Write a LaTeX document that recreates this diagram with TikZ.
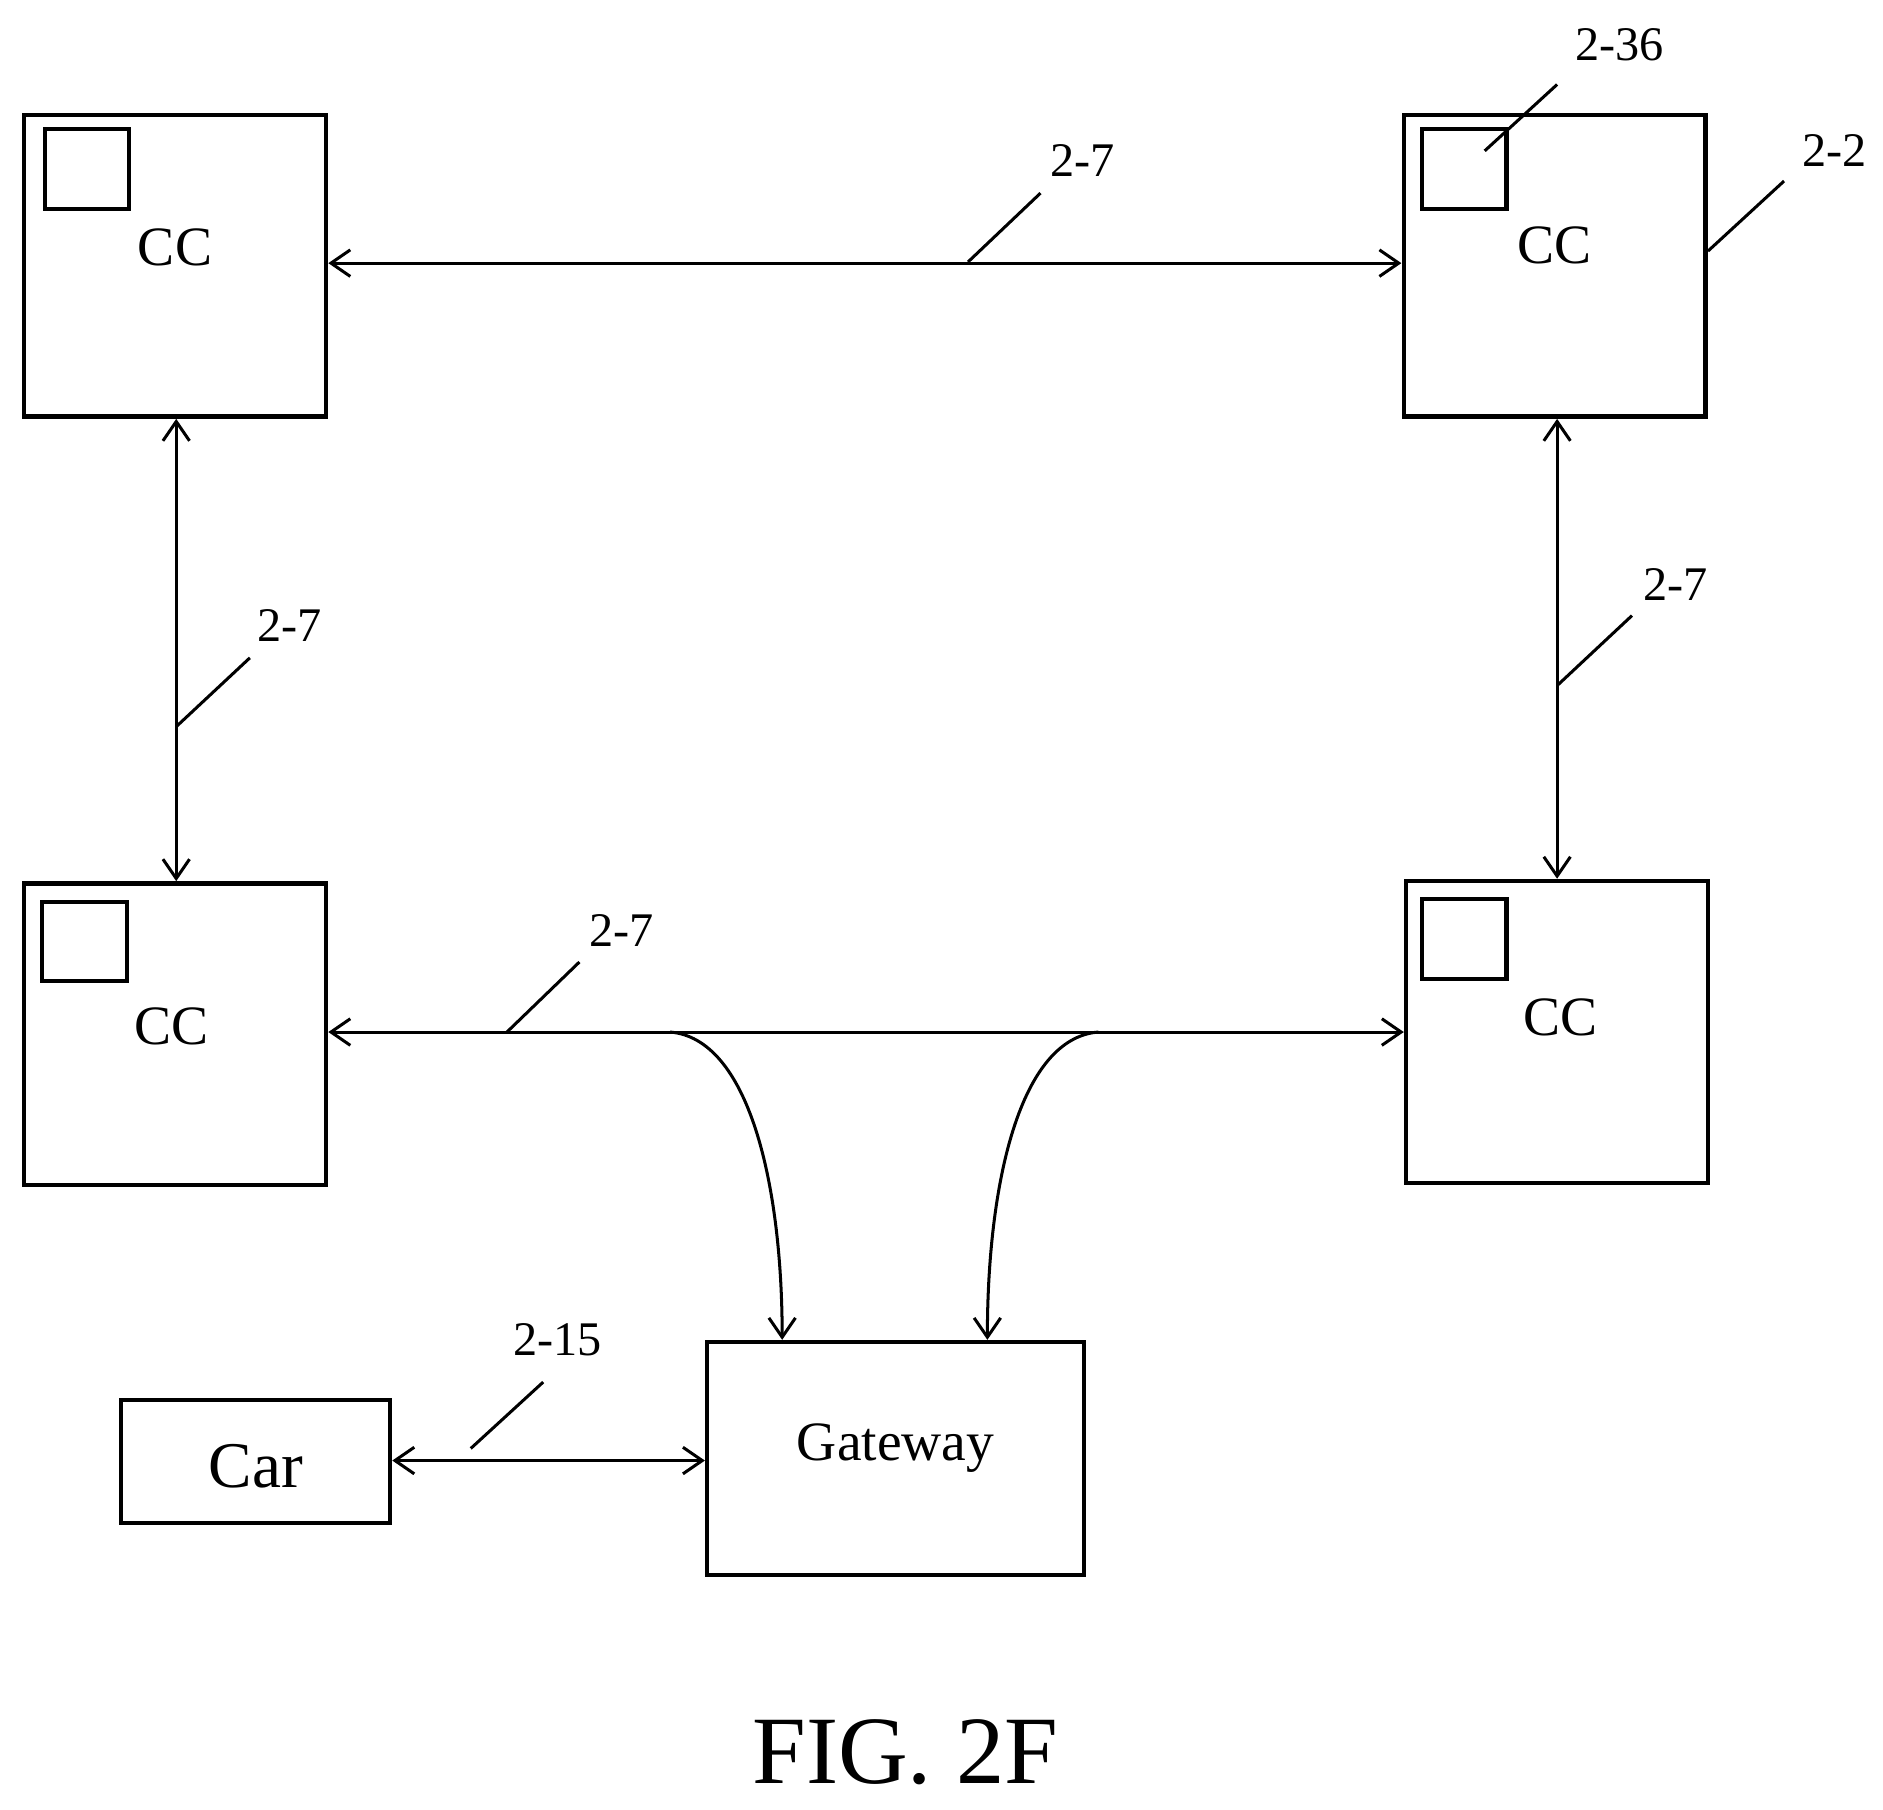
\documentclass[tikz,border=0pt]{standalone}
\usepackage{fontspec}
\setmainfont{Liberation Serif}
\usetikzlibrary{arrows.meta}
\begin{document}
\begin{tikzpicture}[x=1pt,y=-1pt,
  box/.style={draw,line width=3.5pt,inner sep=0pt},
  lnk/.style={line width=2.5pt,{Straight Barb[length=16pt,width=22pt,line width=2.5pt]}-{Straight Barb[length=16pt,width=22pt,line width=2.5pt]}},
  one/.style={line width=2.5pt,-{Straight Barb[length=16pt,width=22pt,line width=2.5pt]}},
  lead/.style={line width=2.5pt},
  num/.style={font=\fontsize{40}{44}\selectfont,inner sep=0pt},
  cc/.style={font=\fontsize{46}{50}\selectfont,inner sep=0pt}]
\useasboundingbox (0,0) rectangle (1560,1499);
% CC boxes
\draw[box] (20,95) rectangle (270,345);
\draw[box] (37,107) rectangle (107,173);
\node[cc] (tlt) at (145,205) {CC};
\draw[box] (1163,95) rectangle (1413,345);
\draw[box] (1178,107) rectangle (1248,173);
\node[cc] (trt) at (1288,203) {CC};
\draw[box] (20,732) rectangle (270,982);
\draw[box] (35,747) rectangle (105,813);
\node[cc] (blt) at (142,850) {CC};
\draw[box] (1165,730) rectangle (1415,980);
\draw[box] (1178,745) rectangle (1248,811);
\node[cc] (brt) at (1293,843) {CC};
\draw[box] (586,1112) rectangle (898,1305);
\node[cc] (gw) at (742,1200) {Gateway};
\draw[box] (100,1160) rectangle (323,1262);
\node[font=\fontsize{54}{58}\selectfont,inner sep=0pt] (car) at (212,1215) {Car};
% coordinates
\coordinate (a1) at (272,218); \coordinate (a2) at (1161,218);
\coordinate (b1) at (146,347); \coordinate (b2) at (146,730);
\coordinate (c1) at (1290,347); \coordinate (c2) at (1290,728);
\coordinate (d1) at (272,855); \coordinate (d2) at (1163,855);
\coordinate (e1) at (325,1210); \coordinate (e2) at (584,1210);
\draw[lnk] (a1) -- (a2);
\draw[lnk] (b1) -- (b2);
\draw[lnk] (c1) -- (c2);
\draw[lnk] (d1) -- (d2);
\draw[lnk] (e1) -- (e2);
\coordinate (f1) at (555,855); \coordinate (f2) at (648,1110);
\coordinate (g1) at (910,855); \coordinate (g2) at (818,1110);
\draw[one] (f1) .. controls (620,860) and (648,980) .. (f2);
\draw[one] (g1) .. controls (845,860) and (818,980) .. (g2);
% labels
\node[num] (l1) at (897,133) {2-7}; \draw[lead] (802,217) -- (862,160);
\node[num] (l2) at (240,518) {2-7}; \draw[lead] (146,602) -- (207,545);
\node[num] (l3) at (1388,484) {2-7}; \draw[lead] (1290,568) -- (1352,510);
\node[num] (l4) at (515,771) {2-7}; \draw[lead] (420,855) -- (480,797);
\node[num] (l5) at (462,1110) {2-15}; \draw[lead] (390,1200) -- (450,1145);
\node[num] (l6) at (1342,37) {2-36}; \draw[lead] (1230,125) -- (1290,70);
\node[num] (l7) at (1520,125) {2-2}; \draw[lead] (1415,208) -- (1478,150);
\node[font=\fontsize{80}{84}\selectfont,inner sep=0pt] (fig) at (750,1452) {FIG. 2F};
\end{tikzpicture}
\end{document}
